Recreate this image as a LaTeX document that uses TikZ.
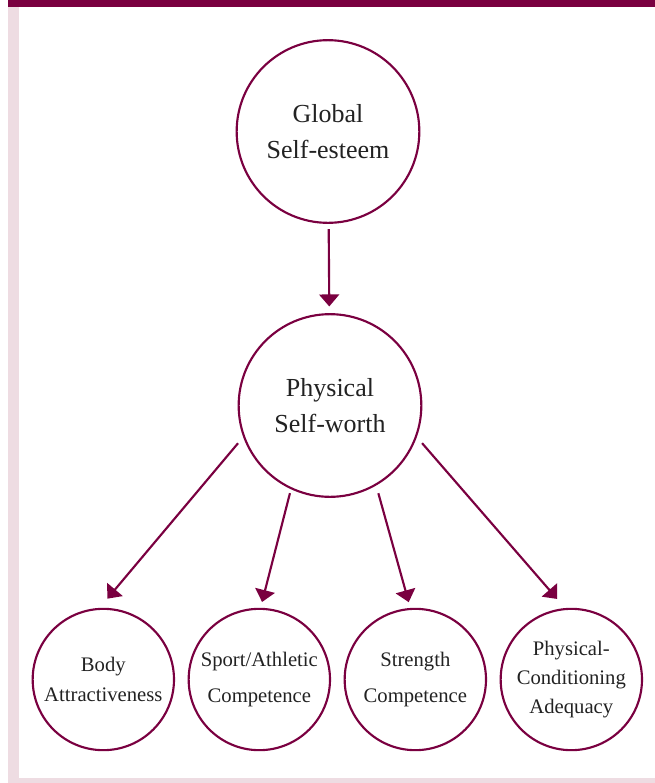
\documentclass[tikz,border=0pt]{standalone}
\usepackage{fontspec}
\setmainfont{Liberation Serif}
\usetikzlibrary{shapes.geometric, arrows.meta}
\definecolor{wine}{HTML}{7A0040}
\definecolor{blush}{HTML}{EEDCE2}
\definecolor{ink}{HTML}{222222}

\begin{document}
\begin{tikzpicture}[x=0.75pt, y=-0.75pt, node distance=205.5pt]
        \tikzstyle{bigcircle} = [circle, minimum size=137pt, inner sep=0pt, draw=wine, line width=1.6pt, text=ink, align=center, font=\fontsize{19.5}{26.5}\selectfont]
        \tikzstyle{smallcircle} = [circle, minimum size=106pt, inner sep=0pt, draw=wine, line width=1.6pt, text=ink, align=center, font=\fontsize{15.5}{22}\selectfont]
        \tikzstyle{arrow} = [wine, line width=1.6pt, -{Triangle[width=15pt,length=9pt]}]

        % frame
        \useasboundingbox (0,0) rectangle (655,783);
        \fill[wine] (8,0) rectangle (655,7);
        \fill[blush] (8,7) rectangle (19,783);
        \fill[blush] (8,778) rectangle (655,783);

        \node (global) [bigcircle] at (328,131.5) {Global\\Self-esteem};
        \node (physical) [bigcircle, below of=global, xshift=1.5pt] {Physical\\Self-worth};
        \node (body) [smallcircle, below of=physical, xshift=-170pt] {Body\\Attractiveness};
        \node (sport) [smallcircle, below of=physical, xshift=-53pt] {Sport/Athletic\\[4.5pt]Competence};
        \node (strength) [smallcircle, below of=physical, xshift=64pt] {Strength\\[4.5pt]Competence};
        \node (conditioning) [smallcircle, below of=physical, xshift=181pt] {Physical-\\Conditioning\\Adequacy};

        \draw [arrow, shorten <=4pt, shorten >=5pt] (global) -- (physical);
        \draw [arrow, shorten <=6pt, shorten >=9pt] (physical.200) -- (body.93);
        \draw [arrow, shorten <=3pt, shorten >=4.5pt] (physical.245) -- (sport.89);
        \draw [arrow, shorten <=6pt, shorten >=4.5pt] (physical.300) -- (strength.94);
        \draw [arrow, shorten <=6pt, shorten >=9pt] (physical.340.6) -- (conditioning.95.5);
    \end{tikzpicture}
\end{document}
